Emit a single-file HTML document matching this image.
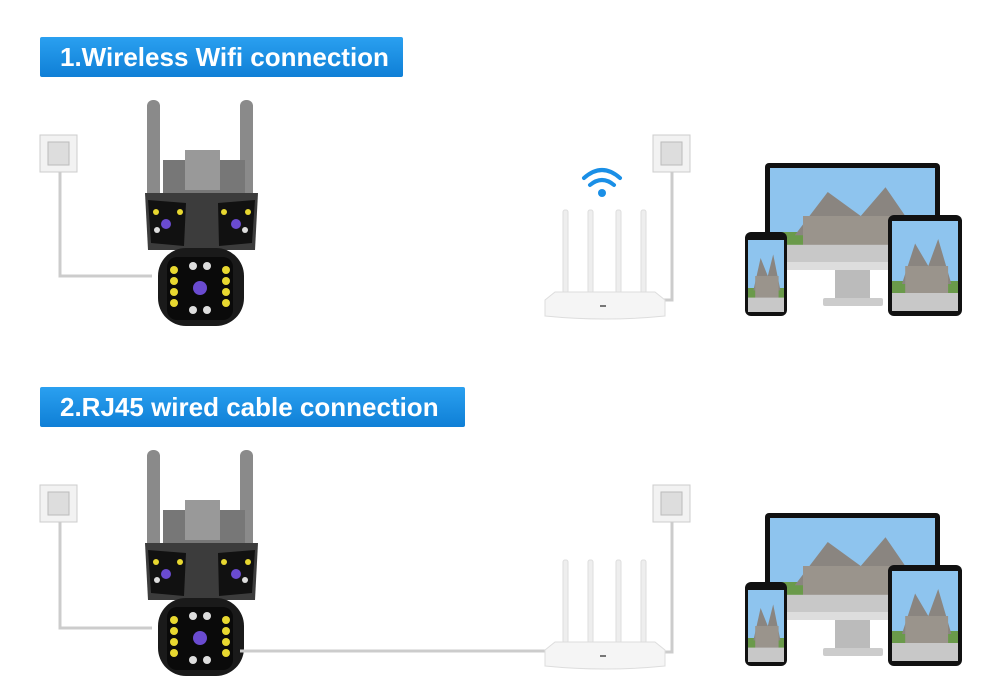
<!DOCTYPE html>
<html><head><meta charset="utf-8"><style>
body{margin:0;background:#fff;width:1000px;height:700px;overflow:hidden;position:relative;font-family:"Liberation Sans",sans-serif}
.lbl{position:absolute;color:#fff;font-weight:bold;font-size:26px;line-height:40px;padding-left:20px;border-radius:2px;background:linear-gradient(#2aa0f0,#0f7fd6)}
svg{position:absolute;left:0;top:0}
</style></head><body>
<div class="lbl" style="left:40px;top:37px;width:343px;height:40px">1.Wireless Wifi connection</div>
<div class="lbl" style="left:40px;top:387px;width:405px;height:40px">2.RJ45 wired cable connection</div>
<svg width="1000" height="700" viewBox="0 0 1000 700">
<defs>
<g id="outlet"><rect x="0" y="0" width="37" height="37" fill="#f2f2f2" stroke="#ccc"/><rect x="8" y="7" width="21" height="23" fill="#ddd" stroke="#bbb"/></g>
<g id="cam">
<rect x="147" y="100" width="13" height="100" rx="6" fill="#8a8a8a"/>
<rect x="240" y="100" width="13" height="100" rx="6" fill="#8a8a8a"/>
<rect x="163" y="160" width="82" height="36" fill="#777"/>
<rect x="185" y="150" width="35" height="40" fill="#999"/>
<path d="M145 193 L258 193 L255 250 L148 250 Z" fill="#3c3c3c"/>
<path d="M148 200 L186 203 L184 246 L151 243 Z" fill="#111"/>
<path d="M218 203 L255 200 L252 243 L219 246 Z" fill="#111"/>
<rect x="158" y="248" width="86" height="78" rx="28" fill="#1a1a1a"/>
<rect x="167" y="257" width="66" height="63" rx="10" fill="#0a0a0a"/>
<circle cx="200" cy="288" r="7" fill="#6a4bd0"/><circle cx="166" cy="224" r="5" fill="#6a4bd0"/><circle cx="236" cy="224" r="5" fill="#6a4bd0"/>
<g fill="#e8d830"><circle cx="174" cy="270" r="4"/><circle cx="174" cy="281" r="4"/><circle cx="174" cy="292" r="4"/><circle cx="174" cy="303" r="4"/><circle cx="226" cy="270" r="4"/><circle cx="226" cy="281" r="4"/><circle cx="226" cy="292" r="4"/><circle cx="226" cy="303" r="4"/><circle cx="156" cy="212" r="3"/><circle cx="180" cy="212" r="3"/><circle cx="224" cy="212" r="3"/><circle cx="248" cy="212" r="3"/></g>
<g fill="#ddd"><circle cx="193" cy="266" r="4"/><circle cx="207" cy="266" r="4"/><circle cx="193" cy="310" r="4"/><circle cx="207" cy="310" r="4"/><circle cx="157" cy="230" r="3"/><circle cx="245" cy="230" r="3"/></g>
</g>
<g id="router">
<rect x="563" y="210" width="5" height="95" rx="2" fill="#eee" stroke="#ddd"/>
<rect x="588" y="210" width="5" height="95" rx="2" fill="#eee" stroke="#ddd"/>
<rect x="616" y="210" width="5" height="95" rx="2" fill="#eee" stroke="#ddd"/>
<rect x="641" y="210" width="5" height="95" rx="2" fill="#eee" stroke="#ddd"/>
<path d="M545 300 L555 292 L655 292 L665 300 L665 316 Q605 322 545 316 Z" fill="#f5f5f5" stroke="#ddd"/>
<rect x="600" y="305" width="6" height="2" fill="#777"/>
</g>
<g id="screen">
<rect x="0" y="0" width="100" height="60" fill="#8ec4ee"/>
<rect x="0" y="40" width="100" height="20" fill="#6a9a4a"/>
<path d="M15 42 L35 15 L55 30 L70 12 L90 42 Z" fill="#8a8580"/>
<rect x="20" y="30" width="65" height="20" fill="#9a948c"/>
<rect x="0" y="48" width="100" height="12" fill="#c8c8c8"/>
</g>
<g id="devices">
<rect x="765" y="163" width="175" height="106" rx="4" fill="#111"/>
<use href="#screen" transform="translate(770,168) scale(1.65,1.6)"/>
<rect x="765" y="262" width="175" height="8" fill="#ddd"/>
<rect x="835" y="270" width="35" height="30" fill="#bbb"/>
<rect x="823" y="298" width="60" height="8" rx="2" fill="#ccc"/>
<rect x="888" y="215" width="74" height="101" rx="6" fill="#111"/>
<use href="#screen" transform="translate(892,221) scale(0.66,1.5)"/>
<rect x="745" y="232" width="42" height="84" rx="6" fill="#111"/>
<use href="#screen" transform="translate(748,240) scale(0.36,1.2)"/>
</g>
</defs>
<use href="#outlet" x="40" y="135"/>
<polyline points="60,172 60,276 152,276" fill="none" stroke="#ccc" stroke-width="3"/>
<use href="#cam"/>
<use href="#outlet" x="653" y="135"/>
<polyline points="672,172 672,300 662,300" fill="none" stroke="#ccc" stroke-width="3"/>
<use href="#router"/>
<g fill="none" stroke="#1a8fe6" stroke-width="4" stroke-linecap="round">
<path d="M584 178 Q602 162 620 178"/><path d="M590 185 Q602 175 614 185"/></g>
<circle cx="602" cy="193" r="4" fill="#1a8fe6"/>
<use href="#devices"/>
<use href="#outlet" x="40" y="485"/>
<polyline points="60,522 60,628 152,628" fill="none" stroke="#ccc" stroke-width="3"/>
<use href="#cam" y="350"/>
<line x1="240" y1="651" x2="548" y2="651" stroke="#ccc" stroke-width="3"/>
<use href="#outlet" x="653" y="485"/>
<polyline points="672,522 672,652 662,652" fill="none" stroke="#ccc" stroke-width="3"/>
<use href="#router" y="350"/>
<use href="#devices" y="350"/>
</svg>
</body></html>
